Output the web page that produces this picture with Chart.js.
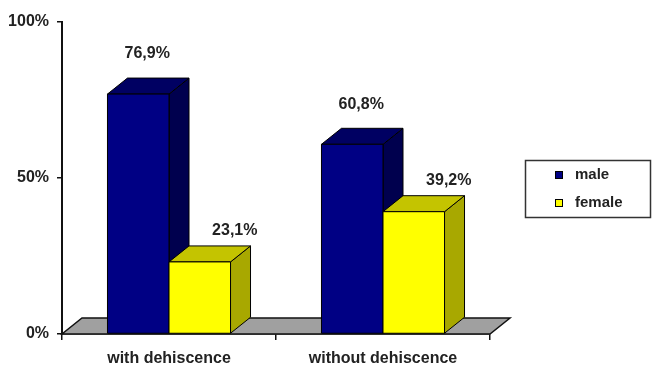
<!DOCTYPE html>
<html>
<head>
<meta charset="utf-8">
<script src="https://cdn.jsdelivr.net/npm/chart.js@4"></script>
<style>
  html, body { margin: 0; padding: 0; background: #fff; }
  #wrap { width: 652px; height: 367px; }
</style>
</head>
<body>
<div id="wrap"><canvas id="c" width="652" height="367"></canvas></div>
<script>
// Share of male / female patients per group (percent)
const categories = ['with dehiscence', 'without dehiscence'];
const seriesNames = ['male', 'female'];
const maleValues = [76.9, 60.8];
const femaleValues = [23.1, 39.2];
const yTicks = [0, 50, 100];

const FONT = '"Liberation Sans", Arial, sans-serif';
const DEPTH = { dx: 20, dy: -16 };

function pct(v) { return v.toFixed(1).replace('.', ',') + '%'; }

// Draws the columns as 3D boxes on a grey floor, plus labels and legend
const boxes3d = {
  id: 'boxes3d',
  beforeDatasetsDraw(chart) {
    const { ctx, chartArea: a } = chart;
    const yb = chart.scales.y.getPixelForValue(0);
    ctx.save();
    ctx.beginPath();
    ctx.moveTo(a.left, yb);
    ctx.lineTo(a.right, yb);
    ctx.lineTo(a.right + DEPTH.dx, yb + DEPTH.dy);
    ctx.lineTo(a.left + DEPTH.dx, yb + DEPTH.dy);
    ctx.closePath();
    ctx.fillStyle = '#a0a0a0';
    ctx.fill();
    ctx.lineWidth = 1.5;
    ctx.strokeStyle = '#111';
    ctx.stroke();
    ctx.restore();
  },
  beforeDatasetDraw() { return false; },
  afterDatasetsDraw(chart) {
    const { ctx } = chart;
    const n = chart.data.labels.length;
    ctx.save();
    ctx.lineWidth = 1;
    ctx.strokeStyle = '#000';
    ctx.lineJoin = 'round';
    for (let i = 0; i < n; i++) {
      chart.data.datasets.forEach((ds, d) => {
        const el = chart.getDatasetMeta(d).data[i];
        const l = el.x - el.width / 2, r = el.x + el.width / 2;
        const t = el.y, b = el.base;
        const { dx, dy } = DEPTH;
        // side face
        ctx.beginPath();
        ctx.moveTo(r, b); ctx.lineTo(r + dx, b + dy);
        ctx.lineTo(r + dx, t + dy); ctx.lineTo(r, t); ctx.closePath();
        ctx.fillStyle = ds.sideColor; ctx.fill(); ctx.stroke();
        // top face
        ctx.beginPath();
        ctx.moveTo(l, t); ctx.lineTo(l + dx, t + dy);
        ctx.lineTo(r + dx, t + dy); ctx.lineTo(r, t); ctx.closePath();
        ctx.fillStyle = ds.topColor; ctx.fill(); ctx.stroke();
        // front face
        ctx.beginPath();
        ctx.rect(l, t, r - l, b - t);
        ctx.fillStyle = ds.backgroundColor; ctx.fill(); ctx.stroke();
      });
    }
    // value labels
    ctx.font = 'bold 16px ' + FONT;
    ctx.fillStyle = '#222';
    ctx.textAlign = 'center';
    ctx.textBaseline = 'middle';
    chart.data.datasets.forEach((ds, d) => {
      chart.getDatasetMeta(d).data.forEach((el, i) => {
        ctx.fillText(pct(ds.data[i]), el.x + ds.labelShift.x, el.y + ds.labelShift.y);
      });
    });
    ctx.restore();
  },
  afterDraw(chart) {
    const { ctx } = chart;
    ctx.save();
    ctx.strokeStyle = '#333';
    ctx.lineWidth = 1.5;
    ctx.strokeRect(525.5, 160.5, 125, 57);
    ctx.font = 'bold 15px ' + FONT;
    ctx.textBaseline = 'middle';
    ctx.textAlign = 'left';
    chart.data.datasets.forEach((ds, d) => {
      const cy = 175 + d * 28;
      ctx.fillStyle = ds.backgroundColor;
      ctx.fillRect(555, cy - 3.5, 7, 7);
      ctx.lineWidth = 1;
      ctx.strokeStyle = '#000';
      ctx.strokeRect(555.5, cy - 3.5, 7, 7);
      ctx.fillStyle = '#222';
      ctx.fillText(ds.label, 575, cy);
    });
    ctx.restore();
  }
};

new Chart(document.getElementById('c'), {
  type: 'bar',
  data: {
    labels: categories,
    datasets: [
      { label: seriesNames[0], data: maleValues, backgroundColor: '#000084',
        sideColor: '#00004e', topColor: '#000062', labelShift: { x: 9, y: -40 } },
      { label: seriesNames[1], data: femaleValues, backgroundColor: '#ffff00',
        sideColor: '#a8a800', topColor: '#c4c400', labelShift: { x: 35, y: -31 } }
    ]
  },
  options: {
    responsive: false,
    animation: false,
    events: [],
    layout: { padding: { top: 22, right: 162, left: 0, bottom: 0 } },
    datasets: { bar: { categoryPercentage: 0.575, barPercentage: 1 } },
    plugins: { legend: { display: false }, tooltip: { enabled: false } },
    scales: {
      x: {
        afterFit(s) { s.height = 33; },
        grid: { drawOnChartArea: false, drawTicks: true, tickLength: 6, color: '#111', lineWidth: 1.5, offset: true },
        border: { display: true, color: '#111', width: 1.5 },
        ticks: { color: '#222', font: { family: FONT, size: 16, weight: 'bold' }, padding: 9, maxRotation: 0 }
      },
      y: {
        min: 0, max: 100,
        afterFit(s) { s.width = 62; },
        afterBuildTicks(s) { s.ticks = yTicks.map(v => ({ value: v })); },
        grid: { drawOnChartArea: false, drawTicks: true, tickLength: 5, color: '#111', lineWidth: 1.5 },
        border: { display: true, color: '#111', width: 2 },
        ticks: { color: '#222', font: { family: FONT, size: 16, weight: 'bold' }, padding: 8,
                 callback: v => v + '%' }
      }
    }
  },
  plugins: [boxes3d]
});
</script>
</body>
</html>
